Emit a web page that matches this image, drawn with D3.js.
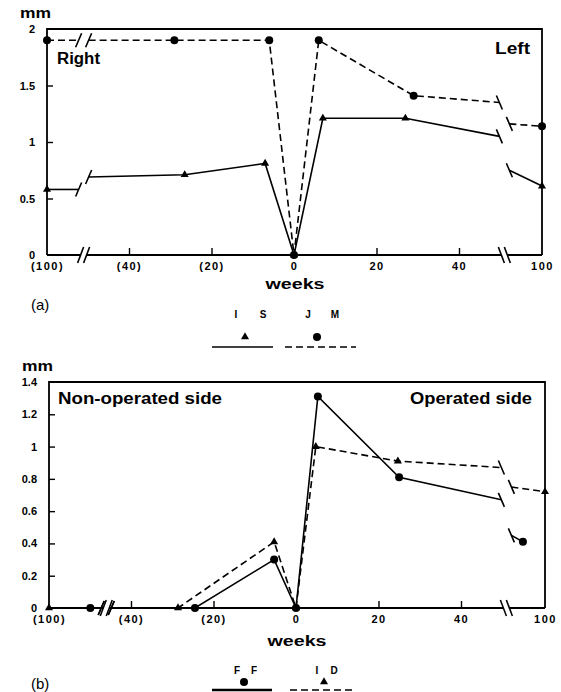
<!DOCTYPE html>
<html>
<head>
<meta charset="utf-8">
<script src="https://cdn.jsdelivr.net/npm/d3@7"></script>
<style>
  body { margin: 0; background: #fff; }
  text { font-family: "Liberation Sans", Arial, sans-serif; fill: #000; }
</style>
</head>
<body>
<div id="chart"></div>
<script>
// ---- data ----
// x tick positions (weeks) and their printed labels
const xTickWeeks = [-100, -40, -20, 0, 20, 40, 100];
const xTickLabels = ["(100)", "(40)", "(20)", "0", "20", "40", "100"];

// (a) mm, Right / Left
const yTicksA = [0, 0.5, 1, 1.5, 2];
const weeksJM = [-100, -29, -6, 0, 6, 29, 100];
const mmJM = [1.9, 1.9, 1.9, 0, 1.9, 1.41, 1.14];
const breakJM = [[1.9, 1.9], [1.35, 1.16]];   // line height either side of left / right break
const weeksIS = [-100, -26.5, -7, 0, 7, 27, 100];
const mmIS = [0.58, 0.71, 0.81, 0, 1.21, 1.21, 0.61];
const breakIS = [[0.58, 0.69], [1.05, 0.75]];

// (b) mm, Non-operated / Operated side
const yTicksB = [0, 0.2, 0.4, 0.6, 0.8, 1, 1.2, 1.4];
const weeksFF = [-61, -24.5, -5.3, 0, 5.3, 25, 72];
const mmFF = [0, 0, 0.3, 0, 1.31, 0.81, 0.41];
const breakFF = [[0, 0], [0.67, 0.45]];
const weeksID = [-100, -28.6, -5.3, 0, 4.8, 24.7, 100];
const mmID = [0, 0, 0.41, 0, 1.0, 0.91, 0.72];
const breakID = [[0, 0], [0.87, 0.75]];

const width = 561, height = 692;
const pxPerWeek = 4.125;
const dash = "7,4";

const svg = d3.select("#chart").append("svg")
    .attr("width", width)
    .attr("height", height);

svg.append("rect").attr("width", width).attr("height", height).attr("fill", "#fff");

const triangle = d3.symbol().type(d3.symbolTriangle).size(28);

function slash(g, cx, cy, dir, h) {
    // dir -1 : "\"   dir 1 : "/"
    g.append("line")
        .attr("x1", cx - 3).attr("y1", cy - dir * h)
        .attr("x2", cx + 3).attr("y2", cy + dir * h)
        .attr("stroke", "#000").attr("stroke-width", 1.6);
}

function drawPanel(p) {
    const x = d3.scaleLinear()
        .domain([-100, p.breakWeeks[0], p.breakWeeks[1], 100])
        .range([p.left, p.zeroX + p.breakWeeks[0] * pxPerWeek,
                p.zeroX + p.breakWeeks[1] * pxPerWeek, p.right]);
    const y = d3.scaleLinear().domain([0, p.yMax]).range([p.bottom, p.top]);

    const g = svg.append("g");
    const xbL = x(p.breakWeeks[0]), xbR = x(p.breakWeeks[1]);

    // frame
    g.append("path")
        .attr("d", `M${p.left},${p.bottom}V${p.top}H${p.right}V${p.bottom}`)
        .attr("fill", "none").attr("stroke", "#000").attr("stroke-width", 1.8);

    // bottom axis with two breaks
    [[p.left, xbL - 3], [xbL + 3, xbR - 3], [xbR + 3, p.right]].forEach(([a, b]) => {
        g.append("line")
            .attr("x1", a).attr("x2", b)
            .attr("y1", p.bottom).attr("y2", p.bottom)
            .attr("stroke", "#000").attr("stroke-width", 1.8);
    });
    slash(g, xbL - 3, p.bottom, -1, 8);
    slash(g, xbL + 3, p.bottom, -1, 8);
    slash(g, xbR - 3, p.bottom, 1, 8);
    slash(g, xbR + 3, p.bottom, 1, 8);

    g.append("g")
        .attr("transform", `translate(0,${p.bottom})`)
        .call(d3.axisBottom(x).tickValues(xTickWeeks)
            .tickFormat((d, i) => xTickLabels[i])
            .tickSize(-7).tickPadding(7))
        .call(a => a.select(".domain").remove())
        .call(a => a.selectAll(".tick line")
            .filter(d => Math.abs(d) === 100 || d === 0).remove())
        .call(a => a.selectAll(".tick line").attr("stroke-width", 1.4))
        .call(a => a.selectAll("text")
            .attr("font-family", "Liberation Sans, Arial, sans-serif")
            .attr("font-size", 11).attr("font-weight", "bold")
            .attr("letter-spacing", 1.5));

    g.append("g")
        .attr("transform", `translate(${p.left},0)`)
        .call(d3.axisLeft(y).tickValues(p.yTicks)
            .tickFormat(d => String(d))
            .tickSize(-6).tickPadding(12))
        .call(a => a.select(".domain").remove())
        .call(a => a.selectAll(".tick line")
            .filter(d => d === 0 || d === p.yMax).remove())
        .call(a => a.selectAll(".tick line").attr("stroke-width", 1.4))
        .call(a => a.selectAll("text")
            .attr("font-family", "Liberation Sans, Arial, sans-serif")
            .attr("font-size", 11).attr("font-weight", "bold"));

    // series
    p.series.forEach(s => {
        const pts = s.weeks.map((w, i) => ({ w, v: s.values[i] }));
        const leftPts = pts.filter(d => d.w < p.breakWeeks[0]);
        const midPts = pts.filter(d => d.w >= p.breakWeeks[0] && d.w <= p.breakWeeks[1]);
        const rightPts = pts.filter(d => d.w > p.breakWeeks[1]);
        const gap = 5;
        const pieces = [
            leftPts.map(d => [x(d.w), y(d.v)]).concat([[xbL - gap, y(s.breaks[0][0])]]),
            [[xbL + gap, y(s.breaks[0][1])]].concat(midPts.map(d => [x(d.w), y(d.v)]),
                [[xbR - gap, y(s.breaks[1][0])]]),
            [[xbR + gap, y(s.breaks[1][1])]].concat(rightPts.map(d => [x(d.w), y(d.v)]))
        ];
        pieces.forEach(pc => {
            g.append("path")
                .attr("d", d3.line()(pc))
                .attr("fill", "none").attr("stroke", "#000")
                .attr("stroke-width", 1.6)
                .attr("stroke-dasharray", s.dashed ? dash : null);
        });
        // break ticks on the line ends
        s.breaks.forEach((b, k) => {
            const xb = k === 0 ? xbL : xbR;
            const dir = k === 0 ? -1 : 1;
            slash(g, xb - gap, y(b[0]), dir, 7);
            slash(g, xb + gap, y(b[1]), dir, 7);
        });
        // markers
        pts.forEach(d => {
            if (s.marker === "circle") {
                g.append("circle").attr("cx", x(d.w)).attr("cy", y(d.v)).attr("r", 4).attr("fill", "#000");
            } else {
                g.append("path").attr("d", triangle)
                    .attr("transform", `translate(${x(d.w)},${y(d.v)})`).attr("fill", "#000");
            }
        });
    });

    // texts
    g.append("text").attr("x", p.left - 27).attr("y", p.top - 11)
        .attr("font-size", 14).attr("font-weight", "bold")
        .attr("textLength", 31).attr("lengthAdjust", "spacingAndGlyphs").text("mm");
    p.labels.forEach(l => {
        g.append("text").attr("x", l.x).attr("y", l.y)
            .attr("font-size", 16).attr("font-weight", "bold")
            .attr("textLength", l.len).attr("lengthAdjust", "spacingAndGlyphs")
            .text(l.text);
    });
    g.append("text").attr("x", p.zeroX + 1).attr("y", p.weeksY)
        .attr("text-anchor", "middle").attr("font-size", 15).attr("font-weight", "bold")
        .attr("textLength", 59).attr("lengthAdjust", "spacingAndGlyphs").text("weeks");
    g.append("text").attr("x", 31).attr("y", p.tagY)
        .attr("font-size", 15).text(p.tag);

    // legend
    p.series.forEach(s => {
        const L = s.legend;
        const [c1, c2] = s.name.split(" ");
        g.append("text").attr("x", L.mx + p.legendLetters[0]).attr("y", L.ty)
            .attr("text-anchor", "middle").attr("font-size", 10).attr("font-weight", "bold").text(c1);
        g.append("text").attr("x", L.mx + p.legendLetters[1]).attr("y", L.ty)
            .attr("text-anchor", "middle").attr("font-size", 10).attr("font-weight", "bold").text(c2);
        if (s.marker === "circle") {
            g.append("circle").attr("cx", L.mx).attr("cy", L.my).attr("r", 4).attr("fill", "#000");
        } else {
            g.append("path").attr("d", triangle)
                .attr("transform", `translate(${L.mx},${L.my})`).attr("fill", "#000");
        }
        g.append("line").attr("x1", L.x1).attr("x2", L.x2).attr("y1", L.ly).attr("y2", L.ly)
            .attr("stroke", "#000").attr("stroke-width", L.w)
            .attr("stroke-dasharray", s.dashed ? dash : null);
    });
}

drawPanel({
    left: 47, right: 542, top: 29, bottom: 255, zeroX: 294,
    breakWeeks: [-51, 51], yMax: 2, yTicks: yTicksA,
    weeksY: 289, tag: "(a)", tagY: 310,
    labels: [
        { text: "Right", x: 57, y: 64, len: 43 },
        { text: "Left", x: 495, y: 54, len: 35 }
    ],
    legendLetters: [-9, 18],
    series: [
        { name: "J M", weeks: weeksJM, values: mmJM, breaks: breakJM, dashed: true, marker: "circle",
          legend: { mx: 317, my: 337, ty: 318, x1: 285, x2: 356, ly: 347, w: 1.6 } },
        { name: "I S", weeks: weeksIS, values: mmIS, breaks: breakIS, dashed: false, marker: "triangle",
          legend: { mx: 245, my: 337, ty: 318, x1: 212, x2: 273, ly: 347, w: 1.6 } }
    ]
});

drawPanel({
    left: 49, right: 545, top: 382, bottom: 608, zeroX: 296,
    breakWeeks: [-46, 51], yMax: 1.4, yTicks: yTicksB,
    weeksY: 646, tag: "(b)", tagY: 689,
    labels: [
        { text: "Non-operated side", x: 58, y: 404, len: 164 },
        { text: "Operated side", x: 410, y: 404, len: 122 }
    ],
    legendLetters: [-7, 10],
    series: [
        { name: "F F", weeks: weeksFF, values: mmFF, breaks: breakFF, dashed: false, marker: "circle",
          legend: { mx: 244, my: 682, ty: 674, x1: 212, x2: 272, ly: 690, w: 2.6 } },
        { name: "I D", weeks: weeksID, values: mmID, breaks: breakID, dashed: true, marker: "triangle",
          legend: { mx: 324, my: 682, ty: 674, x1: 290, x2: 353, ly: 690, w: 1.6 } }
    ]
});
</script>
</body>
</html>
